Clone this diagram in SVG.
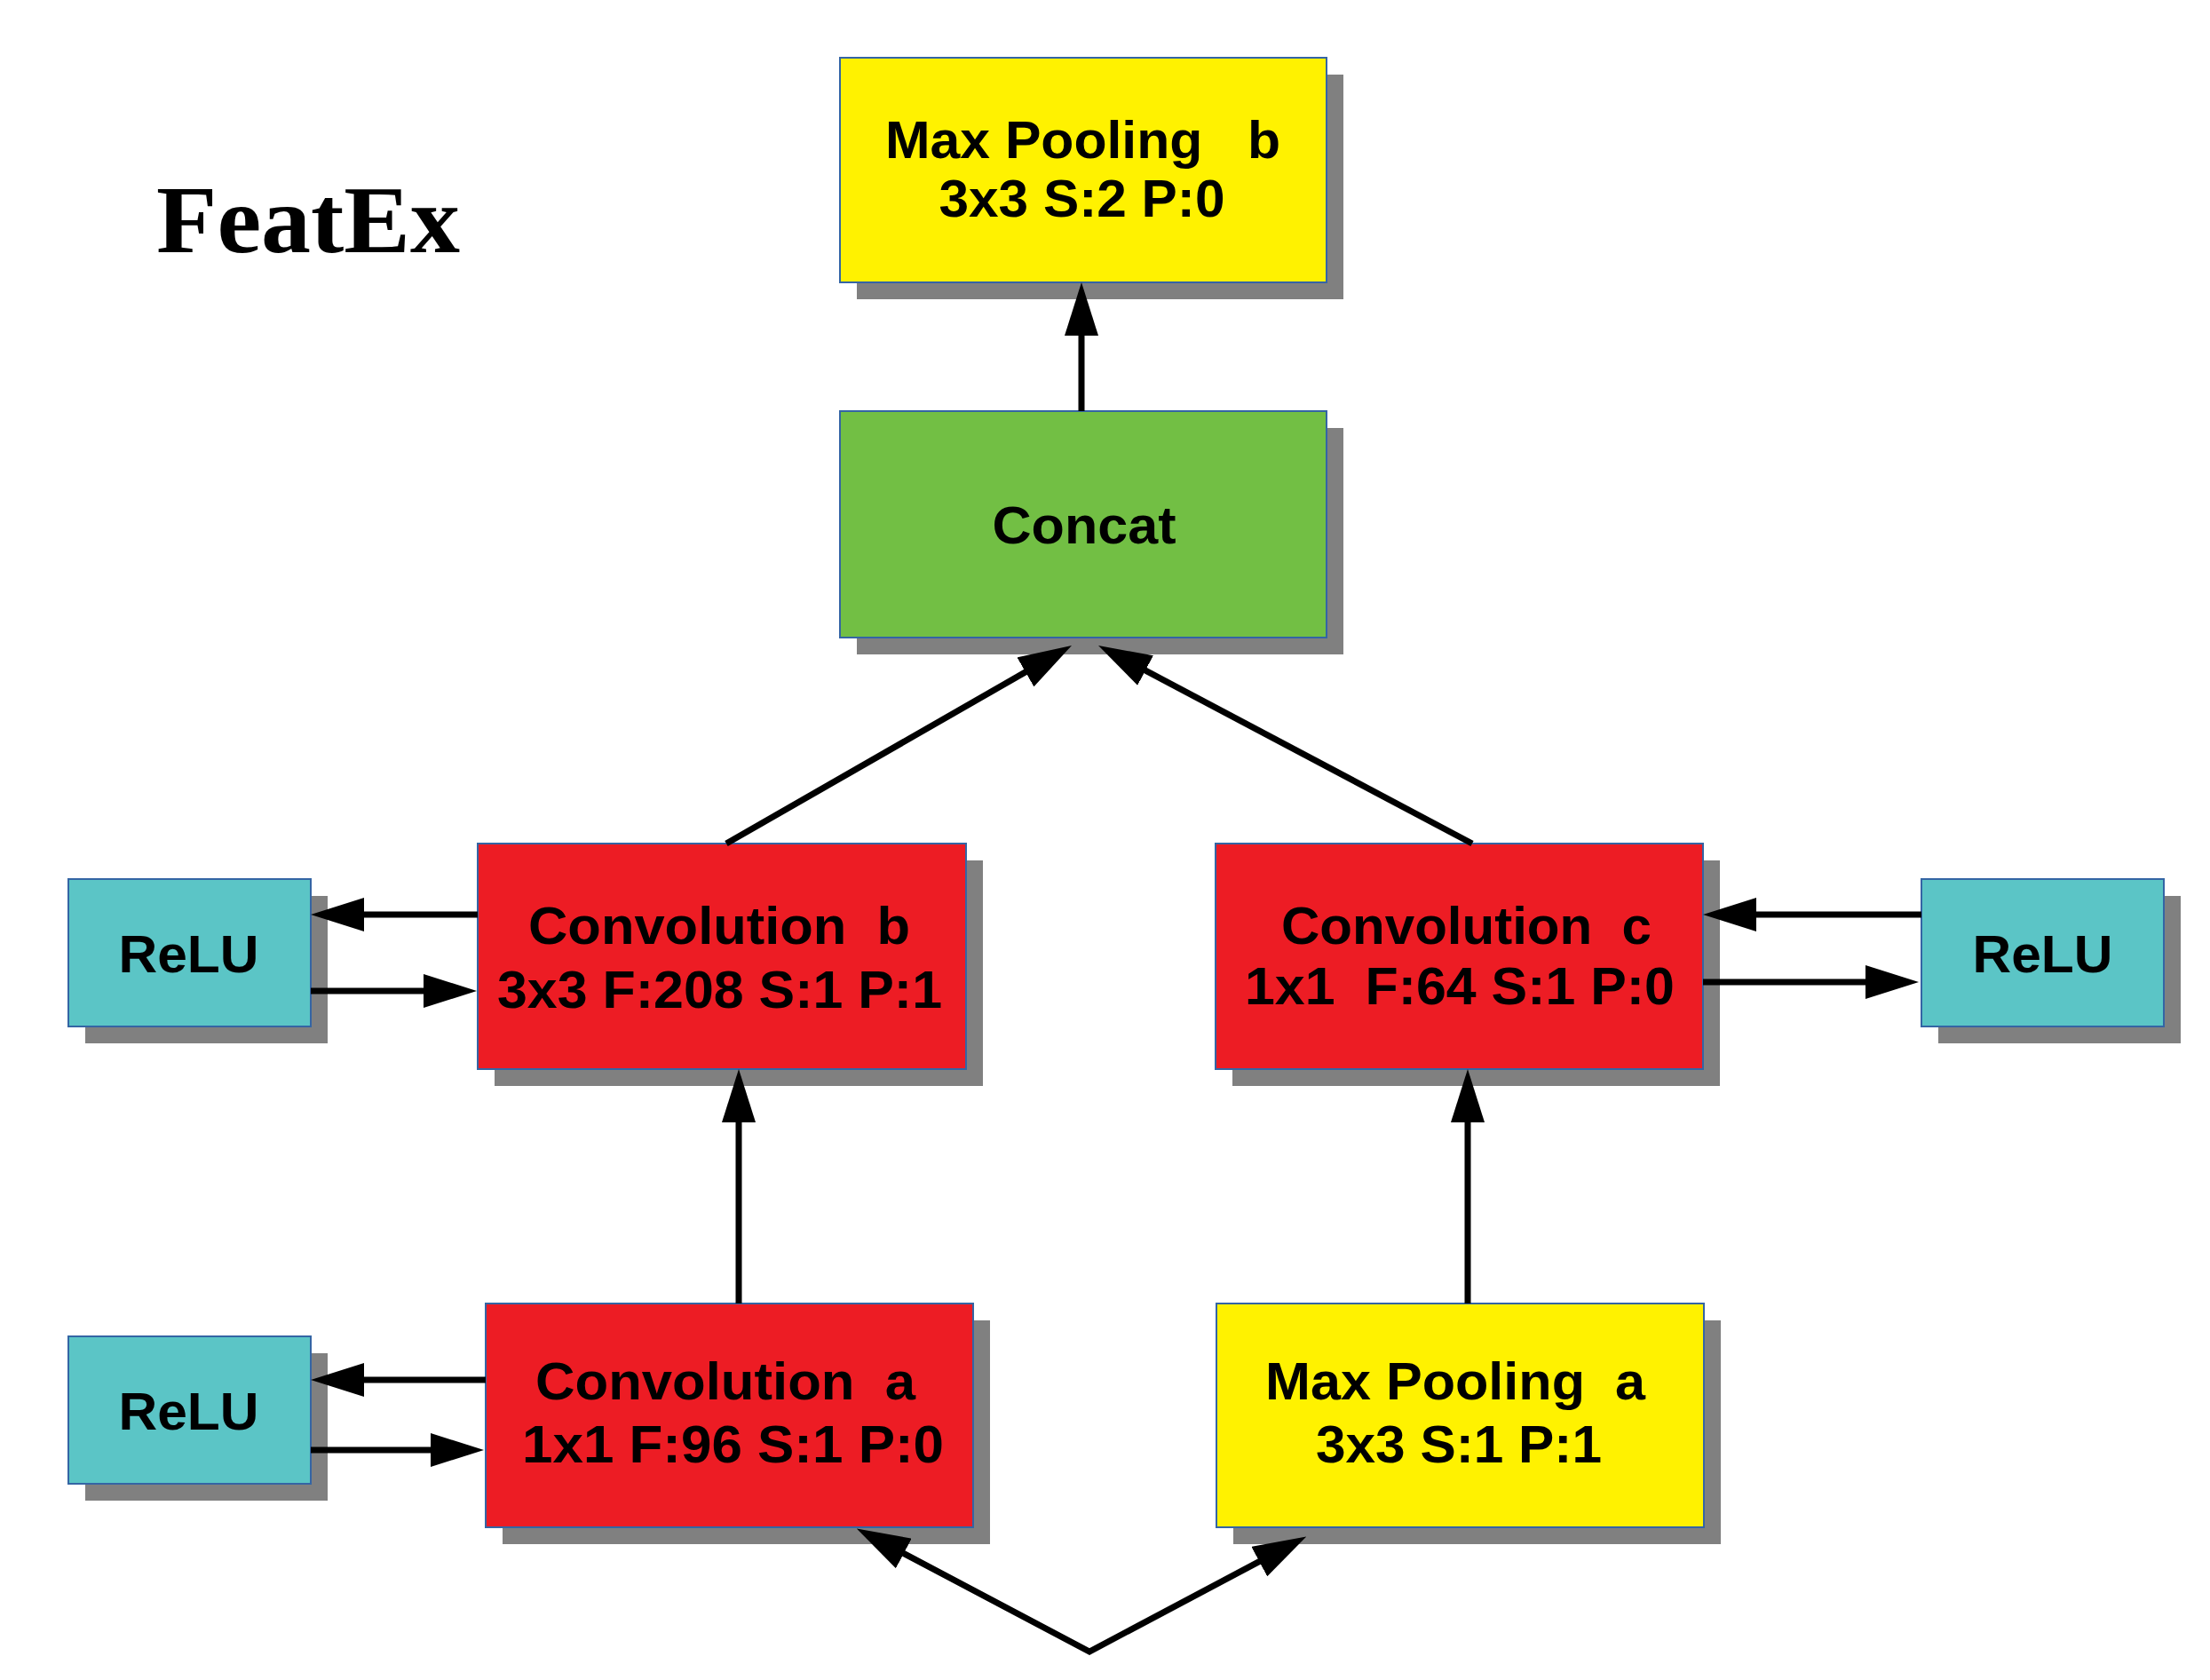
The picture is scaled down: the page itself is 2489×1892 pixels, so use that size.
<svg xmlns="http://www.w3.org/2000/svg" width="2489" height="1892" viewBox="0 0 2489 1892">
<style>
.shadow{fill:#808080}
.box{stroke:#3465a4;stroke-width:2}
.yellow{fill:#fff200}
.green{fill:#72bf44}
.red{fill:#ed1c24}
.cyan{fill:#5bc5c6}
.lbl{font-family:"Liberation Sans",Arial,sans-serif;font-weight:bold;font-size:60px;fill:#000;text-anchor:middle;white-space:pre}
.title{font-family:"Liberation Serif","Times New Roman",serif;font-weight:bold;font-size:109px;fill:#000}
.conn{fill:none;stroke:#000;stroke-width:7;stroke-linejoin:miter}
</style>
<defs>
<marker id="ah" markerUnits="userSpaceOnUse" markerWidth="60" markerHeight="38" viewBox="0 0 60 38" refX="10" refY="19" orient="auto-start-reverse"><path d="M0,0 L60,19 L0,38 z" fill="#000"/></marker>
</defs>
<rect width="2489" height="1892" fill="#fff"/>
<text id="title" class="title" x="176" y="284" textLength="342" lengthAdjust="spacingAndGlyphs">FeatEx</text>

<g id="maxpool_b">
<rect class="shadow" x="965" y="84" width="548" height="253"/>
<rect class="box yellow" x="946" y="65" width="548" height="253"/>
<text class="lbl" xml:space="preserve" x="1219.5" y="178" textLength="445" lengthAdjust="spacingAndGlyphs">Max Pooling   b</text>
<text class="lbl" x="1218.5" y="244" textLength="322" lengthAdjust="spacingAndGlyphs">3x3 S:2 P:0</text>
</g>

<g id="concat">
<rect class="shadow" x="965" y="482" width="548" height="255"/>
<rect class="box green" x="946" y="463" width="548" height="255"/>
<text class="lbl" x="1221" y="612" textLength="207" lengthAdjust="spacingAndGlyphs">Concat</text>
</g>

<g id="conv_b">
<rect class="shadow" x="557" y="969" width="550" height="254"/>
<rect class="box red" x="538" y="950" width="550" height="254"/>
<text class="lbl" xml:space="preserve" x="810" y="1063" textLength="430" lengthAdjust="spacingAndGlyphs">Convolution  b</text>
<text class="lbl" x="810.5" y="1135" textLength="501" lengthAdjust="spacingAndGlyphs">3x3 F:208 S:1 P:1</text>
</g>

<g id="conv_c">
<rect class="shadow" x="1388" y="969" width="549" height="254"/>
<rect class="box red" x="1369" y="950" width="549" height="254"/>
<text class="lbl" xml:space="preserve" x="1651.5" y="1063" textLength="417" lengthAdjust="spacingAndGlyphs">Convolution  c</text>
<text class="lbl" xml:space="preserve" x="1644" y="1131" textLength="484" lengthAdjust="spacingAndGlyphs">1x1  F:64 S:1 P:0</text>
</g>

<g id="conv_a">
<rect class="shadow" x="566" y="1487" width="549" height="252"/>
<rect class="box red" x="547" y="1468" width="549" height="252"/>
<text class="lbl" xml:space="preserve" x="817" y="1576" textLength="428" lengthAdjust="spacingAndGlyphs">Convolution  a</text>
<text class="lbl" x="825.5" y="1647" textLength="475" lengthAdjust="spacingAndGlyphs">1x1 F:96 S:1 P:0</text>
</g>

<g id="maxpool_a">
<rect class="shadow" x="1389" y="1487" width="549" height="252"/>
<rect class="box yellow" x="1370" y="1468" width="549" height="252"/>
<text class="lbl" xml:space="preserve" x="1639" y="1576" textLength="428" lengthAdjust="spacingAndGlyphs">Max Pooling  a</text>
<text class="lbl" x="1643" y="1647" textLength="322" lengthAdjust="spacingAndGlyphs">3x3 S:1 P:1</text>
</g>

<g id="relu_b">
<rect class="shadow" x="96" y="1009" width="273" height="166"/>
<rect class="box cyan" x="77" y="990" width="273" height="166"/>
<text class="lbl" x="212.5" y="1095" textLength="158" lengthAdjust="spacingAndGlyphs">ReLU</text>
</g>

<g id="relu_a">
<rect class="shadow" x="96" y="1524" width="273" height="166"/>
<rect class="box cyan" x="77" y="1505" width="273" height="166"/>
<text class="lbl" x="212.5" y="1610" textLength="158" lengthAdjust="spacingAndGlyphs">ReLU</text>
</g>

<g id="relu_c">
<rect class="shadow" x="2183" y="1009" width="273" height="166"/>
<rect class="box cyan" x="2164" y="990" width="273" height="166"/>
<text class="lbl" x="2300.5" y="1095" textLength="158" lengthAdjust="spacingAndGlyphs">ReLU</text>
</g>

<g id="connectors">
<path class="conn" d="M1218,463 L1218,368" marker-end="url(#ah)"/>
<path class="conn" d="M818,950 L1163.6,751.9" marker-end="url(#ah)"/>
<path class="conn" d="M1658,950 L1281.2,750.4" marker-end="url(#ah)"/>
<path class="conn" d="M832,1468 L832,1254" marker-end="url(#ah)"/>
<path class="conn" d="M1653,1468 L1653,1254" marker-end="url(#ah)"/>
<path class="conn" d="M538,1030 L400,1030" marker-end="url(#ah)"/>
<path class="conn" d="M350,1116 L487,1116" marker-end="url(#ah)"/>
<path class="conn" d="M547,1554 L400,1554" marker-end="url(#ah)"/>
<path class="conn" d="M350,1633 L495,1633" marker-end="url(#ah)"/>
<path class="conn" d="M2164,1030 L1968,1030" marker-end="url(#ah)"/>
<path class="conn" d="M1918,1106 L2111,1106" marker-end="url(#ah)"/>
<path class="conn" d="M1009,1744.8 L1227,1860 L1427.1,1753.9" marker-start="url(#ah)" marker-end="url(#ah)"/>
</g>
</svg>
